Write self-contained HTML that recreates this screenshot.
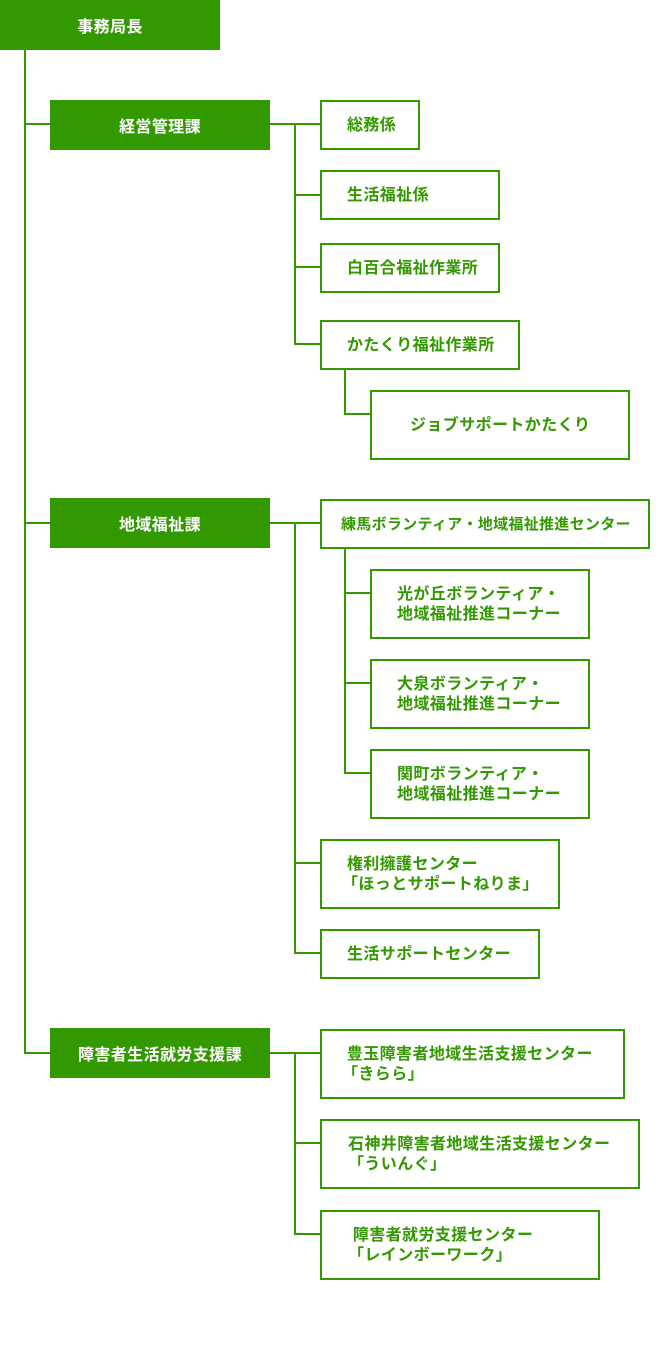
<!DOCTYPE html>
<html><head><meta charset="utf-8"><style>
body{margin:0;width:660px;height:1350px;background:#fff;position:relative;font-family:"Liberation Sans","Noto Sans CJK JP",sans-serif;font-weight:bold;}
.f{position:absolute;background:#339900;color:#fff;font-size:16px;letter-spacing:0.4px;display:flex;align-items:center;justify-content:center;}
.b{position:absolute;border:2px solid #339900;box-sizing:border-box;color:#339900;font-size:16px;letter-spacing:0.4px;display:flex;align-items:center;line-height:20px;padding-top:2px;}
.h{position:absolute;background:#339900;height:2px;}
.v{position:absolute;background:#339900;width:2px;}
</style></head><body>
<div class="f" style="left:0;top:0;width:220px;height:50px">事務局長</div>
<div class="v" style="left:24px;top:50px;height:1004px"></div>

<div class="h" style="left:24px;top:123px;width:26px"></div>
<div class="f" style="left:50px;top:100px;width:220px;height:50px">経営管理課</div>
<div class="h" style="left:270px;top:123px;width:50px"></div>
<div class="v" style="left:294px;top:123px;height:222px"></div>
<div class="b" style="left:320px;top:100px;width:100px;height:50px;padding-left:25px">総務係</div>
<div class="h" style="left:294px;top:194px;width:26px"></div>
<div class="b" style="left:320px;top:170px;width:180px;height:50px;padding-left:25px">生活福祉係</div>
<div class="h" style="left:294px;top:266px;width:26px"></div>
<div class="b" style="left:320px;top:243px;width:180px;height:50px;padding-left:25px">白百合福祉作業所</div>
<div class="h" style="left:294px;top:343px;width:26px"></div>
<div class="b" style="left:320px;top:320px;width:200px;height:50px;padding-left:25px">かたくり福祉作業所</div>
<div class="v" style="left:344px;top:370px;height:45px"></div>
<div class="h" style="left:344px;top:413px;width:26px"></div>
<div class="b" style="left:370px;top:390px;width:260px;height:70px;padding-left:38px">ジョブサポートかたくり</div>

<div class="h" style="left:24px;top:522px;width:26px"></div>
<div class="f" style="left:50px;top:498px;width:220px;height:50px">地域福祉課</div>
<div class="h" style="left:270px;top:522px;width:50px"></div>
<div class="v" style="left:294px;top:522px;height:432px"></div>
<div class="b" style="left:320px;top:499px;width:330px;height:50px;padding-left:19px;font-size:15px;letter-spacing:0.3px">練馬ボランティア・地域福祉推進センター</div>
<div class="v" style="left:344px;top:549px;height:225px"></div>
<div class="h" style="left:344px;top:592px;width:26px"></div>
<div class="b" style="left:370px;top:569px;width:220px;height:70px;padding-left:25px">光が丘ボランティア・<br>地域福祉推進コーナー</div>
<div class="h" style="left:344px;top:682px;width:26px"></div>
<div class="b" style="left:370px;top:659px;width:220px;height:70px;padding-left:25px">大泉ボランティア・<br>地域福祉推進コーナー</div>
<div class="h" style="left:344px;top:772px;width:26px"></div>
<div class="b" style="left:370px;top:749px;width:220px;height:70px;padding-left:25px">関町ボランティア・<br>地域福祉推進コーナー</div>
<div class="h" style="left:294px;top:862px;width:26px"></div>
<div class="b" style="left:320px;top:839px;width:240px;height:70px;padding-left:20px">&nbsp;権利擁護センター<br>「ほっとサポートねりま」</div>
<div class="h" style="left:294px;top:952px;width:26px"></div>
<div class="b" style="left:320px;top:929px;width:220px;height:50px;padding-left:25px">生活サポートセンター</div>

<div class="h" style="left:24px;top:1052px;width:26px"></div>
<div class="f" style="left:50px;top:1028px;width:220px;height:50px">障害者生活就労支援課</div>
<div class="h" style="left:270px;top:1052px;width:50px"></div>
<div class="v" style="left:294px;top:1052px;height:183px"></div>
<div class="b" style="left:320px;top:1029px;width:305px;height:70px;padding-left:20px">&nbsp;豊玉障害者地域生活支援センター<br>「きらら」</div>
<div class="h" style="left:294px;top:1142px;width:26px"></div>
<div class="b" style="left:320px;top:1119px;width:320px;height:70px;padding-left:26px">石神井障害者地域生活支援センター<br>「ういんぐ」</div>
<div class="h" style="left:294px;top:1233px;width:26px"></div>
<div class="b" style="left:320px;top:1210px;width:280px;height:70px;padding-left:26px">&nbsp;障害者就労支援センター<br>「レインボーワーク」</div>
</body></html>
